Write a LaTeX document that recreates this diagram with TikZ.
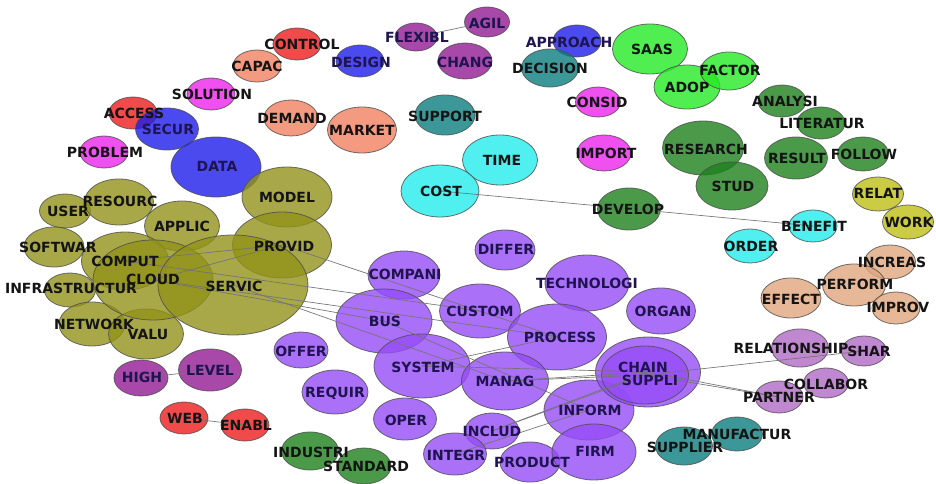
\documentclass[tikz,border=0pt]{standalone}
\usepackage{fontspec}
\newfontfamily\labfont{DejaVu Sans}
\usetikzlibrary{shapes.geometric}

% bubble colours, one per cluster
\definecolor{cRed}{HTML}{EC1D1D}
\definecolor{cSalm}{HTML}{F18160}
\definecolor{cMag}{HTML}{EC24EC}
\definecolor{cBlue}{HTML}{1D1DEA}
\definecolor{cOlive}{HTML}{92921A}
\definecolor{cPlum}{HTML}{921A92}
\definecolor{cTeal}{HTML}{0B7E7E}
\definecolor{cCyan}{HTML}{24ECEC}
\definecolor{cLime}{HTML}{24EA24}
\definecolor{cGreen}{HTML}{1D811D}
\definecolor{cYell}{HTML}{BFBF15}
\definecolor{cTan}{HTML}{E0A67E}
\definecolor{cLilac}{HTML}{B06AC4}
\definecolor{cViol}{HTML}{954CF6}
\definecolor{txtNavy}{HTML}{1E1450}
\colorlet{txtDark}{black!92}
\colorlet{cRedT}{txtDark}
\colorlet{cSalmT}{txtDark}
\colorlet{cMagT}{txtDark}
\colorlet{cBlueT}{txtNavy}
\colorlet{cOliveT}{txtDark}
\colorlet{cPlumT}{txtNavy}
\colorlet{cTealT}{txtDark}
\colorlet{cCyanT}{txtDark}
\colorlet{cLimeT}{txtDark}
\colorlet{cGreenT}{txtDark}
\colorlet{cYellT}{txtDark}
\colorlet{cTanT}{txtDark}
\colorlet{cLilacT}{txtDark}
\colorlet{cViolT}{txtNavy}

% name/x/y/radius/cluster/label x/label y/label
\newcommand\bubbles{%
  control/297/44/16/Red/302/44/CONTROL,
  capac/257/66/16/Salm/257/66/CAPAC,
  solution/211/94/16/Mag/212/94/SOLUTION,
  access/133/113/16/Red/134/113/ACCESS,
  secur/167/129/21/Blue/168/129/SECUR,
  problem/104/152/16/Mag/105/152/PROBLEM,
  data/216/167/30/Blue/217/166/DATA,
  demand/291/118/18/Salm/292/118/DEMAND,
  market/362/130/23/Salm/362/130/MARKET,
  design/360/61/16/Blue/361/62/DESIGN,
  flexibl/416/37/14/Plum/417/37/FLEXIBL,
  agil/487/22/15/Plum/487/23/AGIL,
  chang/465/61/18/Plum/465/62/CHANG,
  support/445/115/20/Teal/445/116/SUPPORT,
  time/500/160/25/Cyan/502/160/TIME,
  cost/440/191/26/Cyan/441/191/COST,
  approach/577/41/16/Blue/569/42/APPROACH,
  decision/550/68/19/Teal/550/68/DECISION,
  consid/598/102/15/Mag/597/102/CONSID,
  import/604/153/18/Mag/606/153/IMPORT,
  saas/650/49/25/Lime/652/49/SAAS,
  adop/687/87/22/Lime/687/87/ADOP,
  factor/729/71/19/Lime/730/70/FACTOR,
  analysi/782/101/16/Green/785/101/ANALYSI,
  literatur/821/123/16/Green/822/123/LITERATUR,
  research/703/148/27/Green/706/149/RESEARCH,
  stud/732/186/24/Green/733/186/STUD,
  result/796/158/21/Green/797/158/RESULT,
  follow/863/154/17/Green/864/154/FOLLOW,
  relat/878/194/17/Yell/878/193/RELAT,
  work/908/222/17/Yell/909/222/WORK,
  develop/629/209/21/Green/628/209/DEVELOP,
  benefit/813/226/16/Cyan/814/226/BENEFIT,
  order/750/246/17/Cyan/751/246/ORDER,
  increas/890/262/17/Tan/892/262/INCREAS,
  perform/854/285/21/Tan/855/284/PERFORM,
  improv/896/308/16/Tan/898/307/IMPROV,
  effect/791/298/20/Tan/791/299/EFFECT,
  user/65/211/17/Olive/68/211/USER,
  resourc/119/202/23/Olive/120/201/RESOURC,
  applic/182/226/25/Olive/182/226/APPLIC,
  model/287/197/30/Olive/287/197/MODEL,
  softwar/54/247/20/Olive/58/247/SOFTWAR,
  comput/125/261/29/Olive/125/261/COMPUT,
  infrastructur/70/290/17/Olive/71/288/INFRASTRUCTUR,
  network/92/324/22/Olive/94/324/NETWORK,
  valu/146/334/25/Olive/148/334/VALU,
  cloud/153/280/40/Olive/153/279/CLOUD,
  provid/282/245/33/Olive/284/246/PROVID,
  servic/233/285/50/Olive/234/286/SERVIC,
  high/141/378/18/Plum/142/377/HIGH,
  level/210/370/21/Plum/210/370/LEVEL,
  web/184/418/16/Red/185/418/WEB,
  enabl/245/425/16/Red/246/425/ENABL,
  industri/310/451/19/Green/311/452/INDUSTRI,
  standard/364/466/18/Green/366/466/STANDARD,
  differ/505/250/20/Viol/506/249/DIFFER,
  compani/404/275/24/Viol/405/274/COMPANI,
  technologi/587/283/28/Viol/587/283/TECHNOLOGI,
  bus/384/321/32/Viol/385/321/BUS,
  custom/480/311/27/Viol/480/311/CUSTOM,
  organ/661/311/23/Viol/663/311/ORGAN,
  process/557/337/33/Viol/560/337/PROCESS,
  offer/301/350/18/Viol/301/351/OFFER,
  system/422/366/32/Viol/423/367/SYSTEM,
  manag/505/381/29/Viol/505/381/MANAG,
  requir/335/392/22/Viol/335/393/REQUIR,
  oper/405/419/21/Viol/406/420/OPER,
  inform/589/410/30/Viol/590/410/INFORM,
  includ/492/431/18/Viol/492/431/INCLUD,
  integr/455/454/21/Viol/456/455/INTEGR,
  product/530/462/20/Viol/532/462/PRODUCT,
  firm/594/452/28/Viol/595/451/FIRM,
  chain/648/372/35/Viol/643/367/CHAIN,
  suppli/645/375/29/Viol/650/380/SUPPLI,
  relationship/800/348/19/Lilac/791/348/RELATIONSHIP,
  shar/864/351/15/Lilac/869/351/SHAR,
  collabor/826/383/15/Lilac/826/384/COLLABOR,
  partner/779/397/16/Lilac/779/397/PARTNER,
  supplier/684/446/19/Teal/685/447/SUPPLIER,
  manufactur/737/434/17/Teal/737/434/MANUFACTUR}

\begin{document}
\begin{tikzpicture}[x=0.75pt, y=-0.75pt,
    bubble/.style={ellipse, draw=black!70, draw opacity=0.8, line width=0.6pt,
      fill opacity=0.8, inner sep=0pt},
    link/.style={draw=black!55, line width=0.5pt},
    lab/.style={font=\labfont\bfseries\fontsize{10.5}{12}\selectfont, inner sep=0pt}]
    \useasboundingbox (0,0) rectangle (936,484);

    % bubbles
    \foreach \n/\x/\y/\r/\g/\lx/\ly/\t in \bubbles
      \node[bubble, fill=c\g, minimum height=1.5pt*\r, minimum width=2.25pt*\r]
        (\n) at (\x,\y) {};

    % co-occurrence links
    \foreach \a/\b in {high/level, web/enabl, flexibl/agil, cost/benefit,
        provid/process, comput/custom, cloud/process, cloud/bus, comput/provid,
        cloud/provid, servic/manag, bus/inform, system/process, system/chain,
        manag/chain, manag/suppli, includ/chain, includ/suppli, integr/inform,
        chain/partner, suppli/partner, suppli/shar}
      \draw[link] (\a.center) -- (\b.center);

    % labels
    \foreach \n/\x/\y/\r/\g/\lx/\ly/\t in \bubbles
      \node[lab, text=c\g T] (l\n) at (\lx,\ly) {\t};
  \end{tikzpicture}
\end{document}
